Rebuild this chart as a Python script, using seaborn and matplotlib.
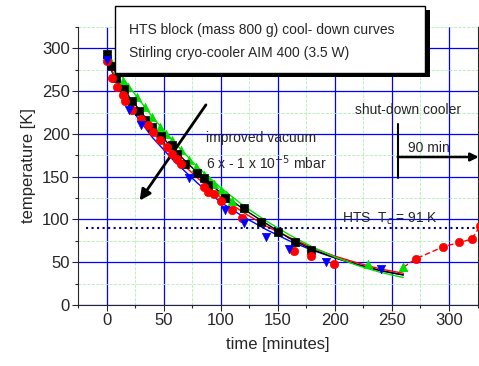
import matplotlib
matplotlib.use("Agg")
import matplotlib.pyplot as plt
import matplotlib.patches as mpatches
from matplotlib.ticker import MultipleLocator
import pandas as pd
import seaborn as sns

sns.set_style("ticks")
plt.rcParams['font.family'] = ['Liberation Sans', 'DejaVu Sans']

# measured points (time in minutes, temperature in K)
green_t = [0, 3, 8, 14, 19, 27, 34, 40, 47, 52, 57, 65, 72, 78, 85, 90, 94, 100, 105, 110, 120, 165, 229, 260]
green_T = [293, 287, 272, 262, 255, 243, 231, 220, 208, 200, 193, 181, 170, 161, 152, 146, 142, 134, 128, 122, 113, 73, 48, 44]

black_t = [0, 4, 8, 15, 22, 28, 34, 40, 48, 57, 62, 69, 79, 85, 89, 104, 120, 135, 150, 165, 179]
black_T = [293, 280, 266, 252, 239, 227, 216, 208, 197, 187, 176, 165, 154, 148, 140, 125, 113, 97, 85, 73, 64]

red_t = [0, 5, 9, 14, 16, 22, 30, 36, 41, 47, 53, 57, 62, 65, 85, 89, 94, 100, 110, 119, 164, 179, 199]
red_T = [285, 265, 255, 245, 239, 228, 218, 210, 202, 193, 185, 177, 171, 165, 138, 132, 130, 122, 111, 102, 63, 57, 48]

blue_t = [0, 19.5, 30, 72, 104, 120, 140, 160, 192, 240]
blue_T = [286, 228, 210, 148, 111, 96, 79, 65, 50, 42]

# warm-up after cooler shut-down
warm_t = [260, 271, 295, 309, 320, 327]
warm_T = [44, 54, 68, 73, 77, 92]

# fitted cool-down curves, read at 20 min steps
fit_t = [0, 20, 40, 60, 80, 100, 120, 140, 160, 180, 200, 220, 240, 260]
fit_green = [292, 255, 220, 189, 161, 137, 116, 98, 82, 68, 56, 46, 38, 32]
fit_black = [290, 243, 209, 180, 154, 131, 112, 95, 78, 65, 55, 47, 40, 35]
fit_red = [285, 238, 202, 173, 148, 126, 108, 92, 79, 67, 57, 49, 42, 37]
fit_blue = [285, 232, 196, 167, 142, 120, 103, 88, 75, 64, 55, 47, 40, 35]

tc_value = 91

GREEN = '#00e000'
BLUE = '#0000ff'
RED = '#ff0000'

fig = plt.figure(figsize=(4.79, 3.66), dpi=100)
ax = fig.add_axes([0.163, 0.167, 0.834, 0.759])

# grid
ax.set_axisbelow(True)
ax.xaxis.set_major_locator(MultipleLocator(50))
ax.xaxis.set_minor_locator(MultipleLocator(25))
ax.yaxis.set_major_locator(MultipleLocator(50))
ax.yaxis.set_minor_locator(MultipleLocator(25))
ax.grid(which='major', color=BLUE, lw=0.9, ls='-')
ax.grid(which='minor', color='#b0f0b0', lw=0.6, ls='--')

# fit curves
fits = pd.DataFrame({'t': fit_t, 'green': fit_green, 'black': fit_black,
                     'red': fit_red, 'blue': fit_blue})
for col, c in [('blue', BLUE), ('red', RED), ('black', 'black'), ('green', GREEN)]:
    sns.lineplot(data=fits, x='t', y=col, color=c, lw=1.0, ax=ax, zorder=3)

# measured points
series = [(green_t, green_T, GREEN, '^'), (black_t, black_T, 'black', 's'),
          (red_t, red_T, RED, 'o'), (blue_t, blue_T, BLUE, 'v')]
for tt, TT, c, m in series:
    sns.scatterplot(x=tt, y=TT, color=c, marker=m, s=36, edgecolor=c,
                    linewidth=0.5, ax=ax, zorder=4)

# warm-up
ax.plot(warm_t, warm_T, color=RED, ls='--', lw=1.0, zorder=3, dashes=(4, 2))
sns.scatterplot(x=warm_t[1:], y=warm_T[1:], color=RED, marker='o', s=36,
                edgecolor=RED, ax=ax, zorder=4)
sns.scatterplot(x=warm_t[:1], y=warm_T[:1], color=GREEN, marker='^', s=36,
                edgecolor=GREEN, ax=ax, zorder=4)

# T_c line
ax.axhline(tc_value - 1, xmin=0.02, color='#000080', ls=':', lw=1.5, zorder=3)
ax.text(206, 96, 'HTS  T$_c$ = 91 K', fontsize=10, va='baseline', ha='left')

# improved vacuum arrow
ax.annotate('', xy=(29, 122), xytext=(87, 234),
            arrowprops=dict(arrowstyle='-|>', color='black', lw=2,
                            mutation_scale=16, shrinkA=0, shrinkB=0))
ax.text(87, 190, 'improved vacuum', fontsize=10, va='baseline')
ax.text(87, 159, '6 x - 1 x 10$^{-5}$ mbar', fontsize=10, va='baseline')

# shut-down cooler
ax.text(218, 223, 'shut-down cooler', fontsize=10, va='baseline')
ax.plot([255, 255], [148, 212], color='black', lw=1.5, zorder=5)
ax.annotate('', xy=(326, 173), xytext=(255, 173), annotation_clip=False,
            arrowprops=dict(arrowstyle='-|>', color='black', lw=1.8,
                            mutation_scale=12, shrinkA=0, shrinkB=0))
ax.text(264, 178.5, '90 min', fontsize=10, va='baseline')

ax.set_xlim(-25, 325)
ax.set_ylim(0, 325)
ax.set_xticks([0, 50, 100, 150, 200, 250, 300])
ax.set_yticks([0, 50, 100, 150, 200, 250, 300])
ax.tick_params(which='major', direction='out', length=4, width=0.8, labelsize=12, pad=2)
ax.tick_params(which='minor', direction='out', length=2.5, width=0.8)
ax.tick_params(axis='y', which='both', right=True, labelright=False)
sns.despine(ax=ax, top=True, right=False)
ax.set_xlabel('time [minutes]', fontsize=12, labelpad=6)
ax.set_ylabel('temperature [K]', fontsize=12, labelpad=4)

# title box with shadow
fig.patches.append(mpatches.Rectangle((0.251, 0.790), 0.647, 0.183, transform=fig.transFigure,
                                      facecolor='black', edgecolor='none', zorder=10))
fig.patches.append(mpatches.Rectangle((0.240, 0.801), 0.647, 0.183, transform=fig.transFigure,
                                      facecolor='white', edgecolor='black', lw=1, zorder=11))
fig.text(0.269, 0.907, 'HTS block (mass 800 g) cool- down curves', fontsize=10,
         va='baseline', zorder=12)
fig.text(0.269, 0.844, 'Stirling cryo-cooler AIM 400 (3.5 W)', fontsize=10,
         va='baseline', zorder=12)

fig.savefig('out.png', dpi=100)
